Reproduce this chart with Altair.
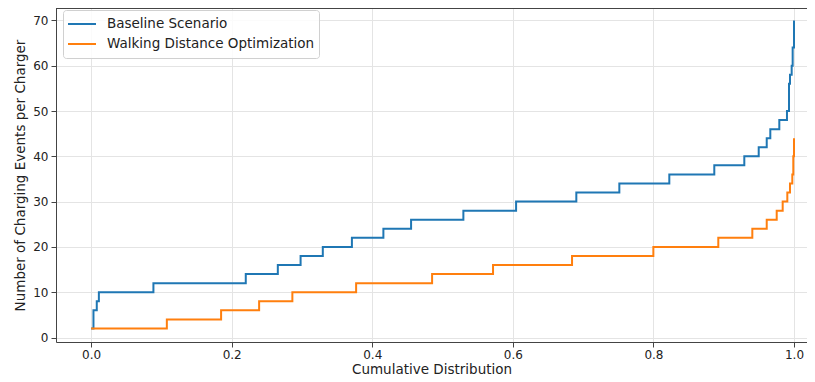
import altair as alt
import pandas as pd

series_names = ["Baseline Scenario", "Walking Distance Optimization"]
series_colors = ["#1f77b4", "#ff7f0e"]

baseline_x = [0.0, 0.0033, 0.008, 0.011, 0.0886, 0.220, 0.2656, 0.298, 0.3296, 0.371,
              0.4158, 0.4552, 0.5296, 0.6046, 0.6903, 0.7515, 0.8226, 0.8866, 0.9293,
              0.9498, 0.9612, 0.9663, 0.9791, 0.990, 0.9929, 0.9943, 0.9967, 0.9981, 1.0]
baseline_y = [2, 6, 8, 10, 12, 14, 16, 18, 20, 22, 24, 26, 28, 30, 32, 34, 36, 38, 40,
              42, 44, 46, 48, 50, 56, 58, 60, 64, 70]

walking_x = [0.0, 0.1077, 0.1849, 0.239, 0.2863, 0.377, 0.4851, 0.5718, 0.6842, 0.7999,
             0.8923, 0.9407, 0.9612, 0.9754, 0.9839, 0.9905, 0.9943, 0.9976, 0.999, 1.0]
walking_y = [2, 4, 6, 8, 10, 12, 14, 16, 18, 20, 22, 24, 26, 28, 30, 32, 34, 36, 40, 44]

x_ticks = [0.0, 0.2, 0.4, 0.6, 0.8, 1.0]
y_ticks = [0, 10, 20, 30, 40, 50, 60, 70]

rows = []
for i, (xs, ys) in enumerate([(baseline_x, baseline_y), (walking_x, walking_y)]):
    for j, (xv, yv) in enumerate(zip(xs, ys)):
        rows.append({"series": series_names[i], "order": j, "cdf": xv, "events": yv})
df = pd.DataFrame(rows)

FONT = "DejaVu Sans"

lines = alt.Chart(df).mark_line(interpolate="step-after", strokeWidth=2).encode(
    x=alt.X("cdf:Q", title="Cumulative Distribution",
            scale=alt.Scale(domain=[-0.05, 1.0185], nice=False, zero=False),
            axis=alt.Axis(values=x_ticks, format=".1f")),
    y=alt.Y("events:Q", title="Number of Charging Events per Charger",
            scale=alt.Scale(domain=[-0.99, 72.74], nice=False, zero=False),
            axis=alt.Axis(values=y_ticks, format="d")),
    color=alt.Color("series:N",
                    scale=alt.Scale(domain=series_names, range=series_colors),
                    legend=alt.Legend(title=None, orient="none", legendX=7, legendY=2)),
    order="order:Q",
)

top_spine = alt.Chart(df).mark_rule(color="#444", strokeWidth=1).encode(y=alt.value(0.5))

chart = alt.layer(lines, top_spine).properties(
    width=751,
    height=334,
    autosize=alt.AutoSizeParams(type="none"),
    padding={"left": 48, "top": 0, "right": 0, "bottom": 34},
    title=alt.Title("Cumulative Distribution, Charging Events per Charger",
                    fontSize=19, font=FONT, fontWeight="normal", color="#111"),
).configure_view(stroke=None).configure_axis(
    labelFont=FONT, labelFontSize=12, labelColor="#222",
    titleFont=FONT, titleFontSize=13.5, titleColor="#222", titleFontWeight="normal",
    domainColor="#444", domainWidth=1, tickColor="#444", tickSize=5, tickWidth=1,
    gridColor="#e4e4e4", gridWidth=1, grid=True,
).configure_axisX(labelPadding=2, titlePadding=2).configure_axisY(
    labelPadding=3, titlePadding=5
).configure_legend(
    padding=4, fillColor="rgba(255,255,255,0.85)", strokeColor="#d0d0d0", cornerRadius=3,
    symbolType="stroke", symbolSize=784, symbolStrokeWidth=2, clipHeight=20, rowPadding=0,
    labelFont=FONT, labelFontSize=13.5, labelColor="#222", labelOffset=10, labelLimit=400,
)

chart.save("out.html", embed_options={"renderer": "svg", "actions": False})
